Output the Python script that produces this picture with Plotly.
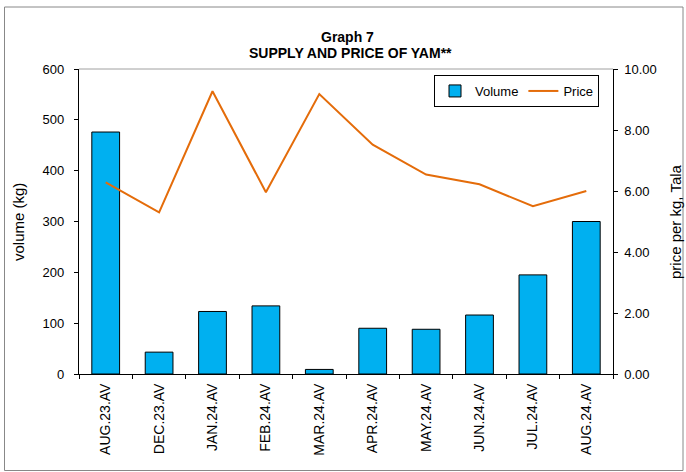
import plotly.graph_objects as go

categories = ["AUG.23.AV", "DEC.23.AV", "JAN.24.AV", "FEB.24.AV", "MAR.24.AV",
              "APR.24.AV", "MAY.24.AV", "JUN.24.AV", "JUL.24.AV", "AUG.24.AV"]
volume = [476, 43, 123, 134, 9, 90, 88, 116, 195, 300]
price = [6.28, 5.30, 9.27, 5.96, 9.18, 7.52, 6.54, 6.22, 5.50, 6.00]

FONT = "Arial, Liberation Sans, sans-serif"
W, H = 686, 472
L, R, T, B = 79, 73, 69, 98
PW, PH = W - L - R, H - T - B

def px(x):
    return (x - L) / PW

def py(y):
    return (H - B - y) / PH

fig = go.Figure()
fig.add_trace(go.Bar(
    x=categories, y=volume, name="Volume",
    marker=dict(color="#00B0F0", line=dict(color="#000000", width=1)),
    yaxis="y",
))
fig.add_trace(go.Scatter(
    x=categories, y=price, name="Price", mode="lines",
    line=dict(color="#E46C0A", width=2),
    yaxis="y2",
))

axis_common = dict(showgrid=False, zeroline=False, linecolor="#000000", linewidth=1,
                   tickcolor="#000000")

fig.update_layout(
    width=W, height=H,
    margin=dict(l=L, r=R, t=T, b=B, pad=0),
    paper_bgcolor="white", plot_bgcolor="white",
    font=dict(family=FONT, size=13, color="#000000"),
    bargap=0.48,
    showlegend=True,
    legend=dict(orientation="h", x=px(434), y=py(75), xanchor="left", yanchor="top",
                bordercolor="#000000", borderwidth=1, bgcolor="white",
                font=dict(family=FONT, size=13), itemwidth=30,
                traceorder="normal"),
    xaxis=dict(type="category", tickson="boundaries", ticks="outside", ticklen=4,
               tickangle=-90, showline=True, range=[-0.5, 9.5], ticklabelstandoff=3,
               tickfont=dict(family=FONT, size=14, color="#000000"), **axis_common),
    xaxis2=dict(overlaying="x", anchor="y", type="linear", range=[-0.5, 9.5],
                tick0=0.5, dtick=1, ticks="inside", ticklen=4, showticklabels=False,
                showline=False, showgrid=False, zeroline=False, tickcolor="#000000"),
    yaxis=dict(range=[0, 600], dtick=100, ticks="outside", ticklen=4, showline=True,
               ticksuffix="\u00a0\u00a0",
               tickfont=dict(family=FONT, size=13, color="#000000"), **axis_common),
    yaxis2=dict(range=[0, 10], dtick=2, tickformat=".2f", overlaying="y", side="right",
                ticks="outside", ticklen=4, showline=True, anchor="x", tickprefix="\u00a0",
                tickfont=dict(family=FONT, size=13, color="#000000"), **axis_common),
    yaxis3=dict(overlaying="y", anchor="x", side="left", range=[0, 600], dtick=100,
                ticks="inside", ticklen=4, showticklabels=False, showline=False,
                showgrid=False, zeroline=False, tickcolor="#000000"),
    yaxis4=dict(overlaying="y", anchor="x", side="right", range=[0, 10], dtick=2,
                ticks="inside", ticklen=4, showticklabels=False, showline=False,
                showgrid=False, zeroline=False, tickcolor="#000000"),
)

# plot-area top border and outer chart border
fig.add_shape(type="line", xref="paper", yref="paper", x0=0, x1=1, y0=1, y1=1,
              line=dict(color="#A0A0A0", width=1))
fig.add_shape(type="rect", xref="paper", yref="paper",
              x0=px(4.5), x1=px(683), y0=py(470.5), y1=py(7),
              line=dict(color="#888888", width=1), fillcolor="rgba(0,0,0,0)", layer="below")

fig.add_annotation(text="<b>Graph 7</b>", xref="paper", yref="paper", x=px(347), y=py(37),
                   showarrow=False, font=dict(family=FONT, size=14), xanchor="center", yanchor="middle")
fig.add_annotation(text="<b>SUPPLY AND PRICE OF YAM**</b>", xref="paper", yref="paper",
                   x=px(350), y=py(53), showarrow=False, font=dict(family=FONT, size=14),
                   xanchor="center", yanchor="middle")
fig.add_annotation(text="volume (kg)", xref="paper", yref="paper", x=px(18), y=py(222),
                   textangle=-90, showarrow=False, font=dict(family=FONT, size=15),
                   xanchor="center", yanchor="middle")
fig.add_annotation(text="price per kg, Tala", xref="paper", yref="paper", x=px(675), y=py(222),
                   textangle=-90, showarrow=False, font=dict(family=FONT, size=15),
                   xanchor="center", yanchor="middle")

fig.write_html("out.html", config={"displayModeBar": False},
               post_script="document.body.style.margin='0px';document.body.style.overflow='hidden';")
